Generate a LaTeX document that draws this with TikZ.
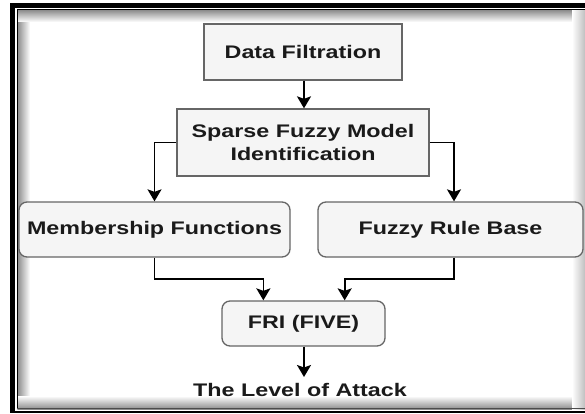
\documentclass[tikz,border=0pt]{standalone}
\usepackage{fontspec}
\setmainfont{Liberation Sans}[FakeStretch=1.28]
\usetikzlibrary{arrows.meta,calc}
\definecolor{boxfill}{HTML}{F5F5F5}
\definecolor{boxline}{HTML}{666666}
\definecolor{txt}{HTML}{1A1A1A}
\tikzset{
  blk/.style={draw=boxline, fill=boxfill, line width=1.3pt, text=txt,
    font=\fontsize{18.2}{22.5}\selectfont\bfseries, align=center, inner sep=0pt},
  rblk/.style={blk, rounded corners=8pt},
  conn/.style={draw=black, line width=1.7pt, -{Stealth[width=14pt,length=12pt,inset=2.5pt]}},
}
\begin{document}
\begin{tikzpicture}[x=1pt,y=-1pt]
\useasboundingbox (0,0) rectangle (585,414);
\fill[white] (0,0) rectangle (585,414);
% frame shadows
\shade[left color=black!45, right color=white] (17.5,10) rectangle (30,409);
\shade[top color=black!45, bottom color=white] (17.5,10) rectangle (585,22);
\shade[bottom color=black!45, top color=white] (17.5,396) rectangle (585,409);
\shade[right color=black!25, left color=white] (572,10) rectangle (585,409);
\fill[white] (30,22) rectangle (572,396);
% frame lines
\fill[black] (10,3) rectangle (15.2,412.5);
\fill[black] (10,3) rectangle (585,8.2);
\fill[black] (10,410.5) rectangle (585,412.5);
\draw[black, line width=0.9pt] (17,409) -- (17,9.5) -- (585,9.5);
\draw[black!70, line width=0.9pt] (17,408.8) -- (585,408.8);

\node[blk, minimum width=198pt, minimum height=56pt] (df) at (303,52) {Data Filtration};
\node[blk, minimum width=252pt, minimum height=67pt] (sp) at (303,142.5) {Sparse Fuzzy Model\\Identification};
\node[rblk, minimum width=271pt, minimum height=55pt] (mf) at (154.5,229.5) {Membership Functions};
\node[rblk, minimum width=265pt, minimum height=55pt] (frb) at (450.5,229.5) {Fuzzy Rule Base};
\node[rblk, minimum width=163pt, minimum height=45pt] (fri) at (303.5,323.5) {FRI (FIVE)};
\node[font=\fontsize{18.2}{22.5}\selectfont\bfseries, text=txt, inner sep=0pt] (lvl) at (300,390) {The Level of Attack};

\coordinate (frbin) at ($(frb.north)+(3.5,0)$);
\coordinate (frbout) at ($(frb.south)+(3.5,0)$);
\coordinate (friL) at ($(fri.north west)+(42,0)$);
\coordinate (friR) at ($(fri.north east)+(-41,0)$);
\coordinate (lvltop) at (304,377);

\draw[conn] (df.south -| 304,0) -- (sp.north -| 304,0);
\draw[conn] (sp.west) -| (mf.north);
\draw[conn] (sp.east) -| (frbin);
\draw[conn] (mf.south) |- (154.5,279) -| (friL);
\draw[conn] (frbout) |- (454,279) -| (friR);
\draw[conn] (fri.south -| lvltop) -- (lvltop);
\end{tikzpicture}
\end{document}
